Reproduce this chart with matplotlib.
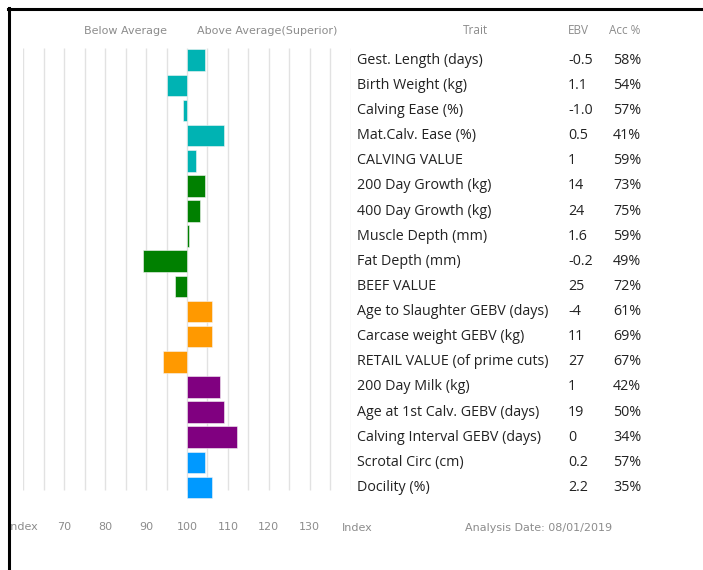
import matplotlib.pyplot as plt
import matplotlib.transforms as mtransforms

# 数据
traits = ['Gest. Length (days)', 'Birth Weight (kg)', 'Calving Ease (%)', 'Mat.Calv. Ease (%)',
          'CALVING VALUE', '200 Day Growth (kg)', '400 Day Growth (kg)', 'Muscle Depth (mm)',
          'Fat Depth (mm)', 'BEEF VALUE', 'Age to Slaughter GEBV (days)', 'Carcase weight GEBV (kg)',
          'RETAIL VALUE (of prime cuts)', '200 Day Milk (kg)', 'Age at 1st Calv. GEBV (days)',
          'Calving Interval GEBV (days)', 'Scrotal Circ (cm)', 'Docility (%)']
ebv = ['-0.5', '1.1', '-1.0', '0.5', '1', '14', '24', '1.6', '-0.2', '25', '-4', '11', '27',
       '1', '19', '0', '0.2', '2.2']
acc = ['58%', '54%', '57%', '41%', '59%', '73%', '75%', '59%', '49%', '72%', '61%', '69%',
       '67%', '42%', '50%', '34%', '57%', '35%']
index_vals = [104.3, 95.2, 99, 109, 102.2, 104.3, 103.2, 100.5, 89.2, 97.1, 106.2, 106.2,
              94.1, 108.1, 109.1, 112.2, 104.3, 106.2]
groups = ['calving'] * 5 + ['beef'] * 5 + ['retail'] * 3 + ['maternal'] * 3 + ['other'] * 2
group_colors = {'calving': '#00B3B3', 'beef': '#008000', 'retail': '#FF9900',
                'maternal': '#800080', 'other': '#0099FF'}
tick_vals = [70, 80, 90, 100, 110, 120, 130]
grid_vals = list(range(60, 145, 5))

W, H = 703, 570
fig = plt.figure(figsize=(W / 100, H / 100), dpi=100)

# 坐标轴: index 60 -> x=23.3px, 140 -> x=350.7px; 行从 y=47.7 到 500
ax = fig.add_axes([23.3 / W, (H - 500) / H, (350.7 - 23.3) / W, (500 - 47.7) / H])
ax.set_xlim(60, 140)
ax.set_ylim(17.5, -0.5)
ax.axis('off')

n = len(traits)
rows = list(range(n))
ax.vlines(grid_vals, -0.5, 17.1, color='#e2e2e2', linewidth=1.0, zorder=1)

colors = [group_colors[g] for g in groups]
lefts = [min(v, 100) for v in index_vals]
widths = [abs(v - 100) for v in index_vals]
ax.barh(rows, widths, left=lefts, height=0.86, color=colors,
        edgecolor='#f4f4f4', linewidth=0.4, zorder=2)

# 文字
fx = mtransforms.blended_transform_factory(fig.transFigure, ax.transData)
tfont = 'Open Sans'
for i in rows:
    ax.text(357 / W, i, traits[i], transform=fx, ha='left', va='center',
            fontsize=10.3, color='#222222', family=tfont)
    ax.text(568 / W, i, ebv[i], transform=fx, ha='left', va='center',
            fontsize=10.3, color='#222222', family=tfont)
    ax.text(613 / W, i, acc[i], transform=fx, ha='left', va='center',
            fontsize=10.3, color='#222222', family=tfont)

gray = '#8c8c8c'
fig.text(475 / W, 1 - 30 / H, 'Trait', ha='center', va='center', fontsize=8.5, color=gray, family=tfont)
fig.text(578 / W, 1 - 30 / H, 'EBV', ha='center', va='center', fontsize=8.5, color=gray, family=tfont)
fig.text(625 / W, 1 - 30 / H, 'Acc %', ha='center', va='center', fontsize=8.5, color=gray, family=tfont)

fig.text(125 / W, 1 - 31.5 / H, 'Below Average', ha='center', va='center', fontsize=8, color=gray)
fig.text(267 / W, 1 - 31.5 / H, 'Above Average(Superior)', ha='center', va='center', fontsize=8, color=gray)

bx = mtransforms.blended_transform_factory(ax.transData, fig.transFigure)
for v in tick_vals:
    ax.text(v, 1 - 527 / H, str(v), transform=bx, ha='center', va='center', fontsize=8, color=gray)
ax.text(60, 1 - 527 / H, 'Index', transform=bx, ha='center', va='center', fontsize=8, color=gray)
fig.text(357 / W, 1 - 528 / H, 'Index', ha='center', va='center', fontsize=8, color=gray)
fig.text(539 / W, 1 - 528 / H, 'Analysis Date: 08/01/2019', ha='center', va='center',
         fontsize=8, color=gray)

# 左边和上边的黑色边框
fig.add_artist(plt.Line2D([9 / W, 9 / W], [0, 1 - 8 / H], color='black', linewidth=2.2))
fig.add_artist(plt.Line2D([8 / W, 1], [1 - 9 / H, 1 - 9 / H], color='black', linewidth=2.2))

fig.savefig('out.png', dpi=100)
